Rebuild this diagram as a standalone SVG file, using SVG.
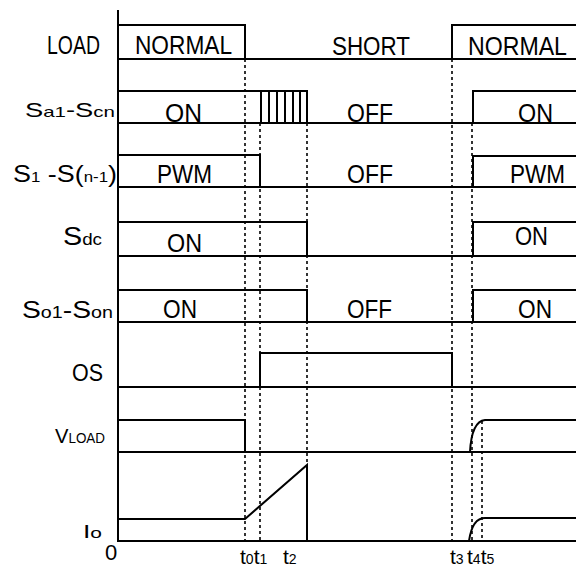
<svg xmlns="http://www.w3.org/2000/svg" width="578" height="569" viewBox="0 0 578 569">
<style>
text{font-family:"Liberation Sans",Arial,sans-serif;fill:#000}
.w{fill:none;stroke:#000;stroke-width:2;stroke-linejoin:miter}
.d{fill:none;stroke:#000;stroke-width:1.6;stroke-dasharray:3,3}
.s{font-size:25px}
.sm{font-size:15px}
.t{font-size:21px}
.ts{font-size:14px}
</style>
<rect width="578" height="569" fill="#fff"/>
<g id="axes">
<path class="w" d="M118,10 V542"/>
</g>
<g id="connectors">
<path class="d" d="M245,59 V541"/>
<path class="d" d="M260,123 V541"/>
<path class="d" d="M307,123 V541"/>
<path class="d" d="M452,59 V541"/>
<path class="d" d="M472,123 V541"/>
<path class="d" d="M482,421 V541"/>
</g>
<g id="load">
<path class="w" d="M118,59 H576 M118,25 H245 V59 M452,59 V25 H576"/>
<text x="47" y="54" class="s" textLength="53" lengthAdjust="spacingAndGlyphs">LOAD</text>
<text x="135" y="54" class="s" textLength="97" lengthAdjust="spacingAndGlyphs">NORMAL</text>
<text x="332" y="55" class="s" textLength="78" lengthAdjust="spacingAndGlyphs">SHORT</text>
<text x="468" y="55" class="s" textLength="99" lengthAdjust="spacingAndGlyphs">NORMAL</text>
</g>
<g id="sa">
<path class="w" d="M118,123 H576 M118,91 H307 V123 M261,91 V123 M269,91 V123 M277,91 V123 M285,91 V123 M293,91 V123 M300,91 V123 M473,123 V91 H576"/>
<text x="25" y="117" font-size="20" textLength="90" lengthAdjust="spacingAndGlyphs">S<tspan class="sm">a1</tspan>-S<tspan class="sm">cn</tspan></text>
<text x="165" y="122" class="s" textLength="37" lengthAdjust="spacingAndGlyphs">ON</text>
<text x="347" y="122" class="s" textLength="46" lengthAdjust="spacingAndGlyphs">OFF</text>
<text x="518" y="122" class="s" textLength="35" lengthAdjust="spacingAndGlyphs">ON</text>
</g>
<g id="s1">
<path class="w" d="M118,187 H576 M118,155 H260 V187 M473,187 V156 H576"/>
<text x="13" y="182" font-size="24" textLength="104" lengthAdjust="spacingAndGlyphs">S<tspan class="sm">1</tspan> -S(<tspan class="sm">n-1</tspan>)</text>
<text x="157" y="183" class="s" textLength="55" lengthAdjust="spacingAndGlyphs">PWM</text>
<text x="347" y="183" class="s" textLength="46" lengthAdjust="spacingAndGlyphs">OFF</text>
<text x="510" y="183" class="s" textLength="55" lengthAdjust="spacingAndGlyphs">PWM</text>
</g>
<g id="sdc">
<path class="w" d="M118,256 H576 M118,222 H307 V256 M473,256 V222 H576"/>
<text x="63" y="245" font-size="26" textLength="39" lengthAdjust="spacingAndGlyphs">S<tspan font-size="17">dc</tspan></text>
<text x="167" y="252" class="s" textLength="35" lengthAdjust="spacingAndGlyphs">ON</text>
<text x="515" y="245" class="s" textLength="33" lengthAdjust="spacingAndGlyphs">ON</text>
</g>
<g id="so">
<path class="w" d="M118,322 H576 M118,290 H307 V322 M473,322 V290 H576"/>
<text x="22" y="318" font-size="23" textLength="91" lengthAdjust="spacingAndGlyphs">S<tspan font-size="16">o1</tspan>-S<tspan font-size="16">on</tspan></text>
<text x="163" y="318" class="s" textLength="34" lengthAdjust="spacingAndGlyphs">ON</text>
<text x="347" y="318" class="s" textLength="45" lengthAdjust="spacingAndGlyphs">OFF</text>
<text x="518" y="318" class="s" textLength="34" lengthAdjust="spacingAndGlyphs">ON</text>
</g>
<g id="os">
<path class="w" d="M118,387 H576 M260,387 V353 H452 V387"/>
<text x="72" y="381" font-size="23" textLength="31" lengthAdjust="spacingAndGlyphs">OS</text>
</g>
<g id="vload">
<path class="w" d="M118,452 H576 M118,420 H245 V452 M470,452 C471,433 475,421 485,420 H576"/>
<text x="55" y="443" font-size="21" textLength="50" lengthAdjust="spacingAndGlyphs">V<tspan font-size="14">LOAD</tspan></text>
</g>
<g id="io">
<path class="w" d="M118,541 H576 M118,519 H245 L307,465 V541 M469,541 C471,527 476,518 485,518 H576"/>
<text x="83" y="538" font-size="19" textLength="19" lengthAdjust="spacingAndGlyphs">I<tspan font-size="15">o</tspan></text>
<text x="105" y="560" font-size="22">0</text>
</g>
<g id="times">
<text x="240" y="564" class="t">t<tspan class="ts">0</tspan>t<tspan class="ts">1</tspan></text>
<text x="283" y="564" class="t">t<tspan class="ts">2</tspan></text>
<text x="450" y="564" class="t">t<tspan class="ts">3</tspan></text>
<text x="467" y="564" class="t">t<tspan class="ts">4</tspan>t<tspan class="ts">5</tspan></text>
</g>
</svg>
